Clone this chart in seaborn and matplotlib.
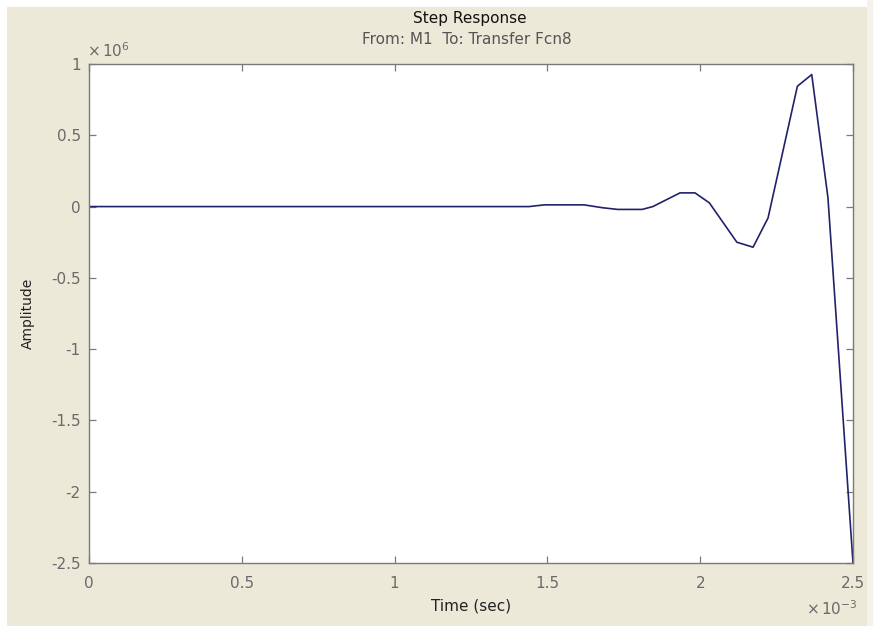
import matplotlib
matplotlib.use("Agg")
import matplotlib.pyplot as plt
import matplotlib.patches as mpatches
import numpy as np
import pandas as pd
import seaborn as sns

# Step response samples: time in units of 1e-3 s, amplitude in units of 1e6
time_ms = [0.0, 1.44, 1.49, 1.62, 1.68, 1.73, 1.81, 1.845, 1.934, 1.983,
           2.03, 2.12, 2.173, 2.222, 2.318, 2.365, 2.418, 2.5]
amplitude_e6 = [0.0, 0.0, 0.012, 0.012, -0.008, -0.02, -0.02, 0.0, 0.096, 0.096,
                0.026, -0.25, -0.285, -0.08, 0.844, 0.926, 0.063, -2.5]

x_ticks = [0, 0.5, 1, 1.5, 2, 2.5]
y_ticks = [1, 0.5, 0, -0.5, -1, -1.5, -2, -2.5]

title_text = "Step Response"
subtitle_text = "From: M1  To: Transfer Fcn8"
x_label = "Time (sec)"
y_label = "Amplitude"

sns.set_theme(style="ticks")
plt.rcParams["font.family"] = ["DejaVu Sans"]
plt.rcParams["mathtext.fontset"] = "dejavusans"

bg = "#ECE9D8"
grey_text = "#6a6a6a"
frame = "#7a7a7a"

fig = plt.figure(figsize=(8.73, 6.26), dpi=100, facecolor=bg)
W, H = 873, 626

# white page margins around the window
fig.patches.append(mpatches.Rectangle((0, 1 - 7 / H), 1, 7 / H, transform=fig.transFigure,
                                      facecolor="white", edgecolor="none", zorder=0))
fig.patches.append(mpatches.Rectangle((0, 0), 7 / W, 1, transform=fig.transFigure,
                                      facecolor="white", edgecolor="none", zorder=0))
fig.patches.append(mpatches.Rectangle((1 - 6 / W, 0), 6 / W, 1, transform=fig.transFigure,
                                      facecolor="#F4F2EA", edgecolor="none", zorder=0))

left, right, top, bottom = 89 / W, 853 / W, 1 - 64 / H, 1 - 563 / H
ax = fig.add_axes([left, bottom, right - left, top - bottom])
ax.set_facecolor("white")

df = pd.DataFrame({"t": time_ms, "y": amplitude_e6})
sns.lineplot(data=df, x="t", y="y", ax=ax, color="#22226a", linewidth=1.2,
             estimator=None, sort=False)

ax.set_xlim(0, 2.5)
ax.set_ylim(-2.5, 1)
ax.set_xticks(x_ticks)
ax.set_yticks(y_ticks)
ax.set_xticklabels([f"{v:g}" for v in x_ticks])
ax.set_yticklabels([f"{v:g}" for v in y_ticks])
ax.set_xlabel("")
ax.set_ylabel("")

for s in ax.spines.values():
    s.set_visible(True)
    s.set_color(frame)
    s.set_linewidth(1.0)

ax.tick_params(axis="both", direction="in", length=5, width=0.9, color=frame,
               labelsize=11, labelcolor=grey_text, top=True, right=True)
ax.tick_params(axis="x", pad=9)
ax.tick_params(axis="y", pad=6)

# titles and labels
fig.text(470 / W, 1 - 19 / H, title_text, ha="center", va="center", fontsize=11, color="#111111")
fig.text(467 / W, 1 - 40 / H, subtitle_text, ha="center", va="center", fontsize=11, color="#555555")
fig.text(471 / W, 1 - 606 / H, x_label, ha="center", va="center", fontsize=11, color="#222222")
fig.text(28 / W, 1 - 313 / H, y_label, ha="center", va="center", fontsize=10,
         rotation=90, color="#222222")

# axis exponent labels
fig.text(87 / W, 1 - 51 / H, r"$\times\,10^{6}$", ha="left", va="center", fontsize=11, color=grey_text)
fig.text(806 / W, 1 - 609 / H, r"$\times\,10^{-3}$", ha="left", va="center", fontsize=11, color=grey_text)

fig.savefig("out.png", dpi=100, facecolor=bg)
